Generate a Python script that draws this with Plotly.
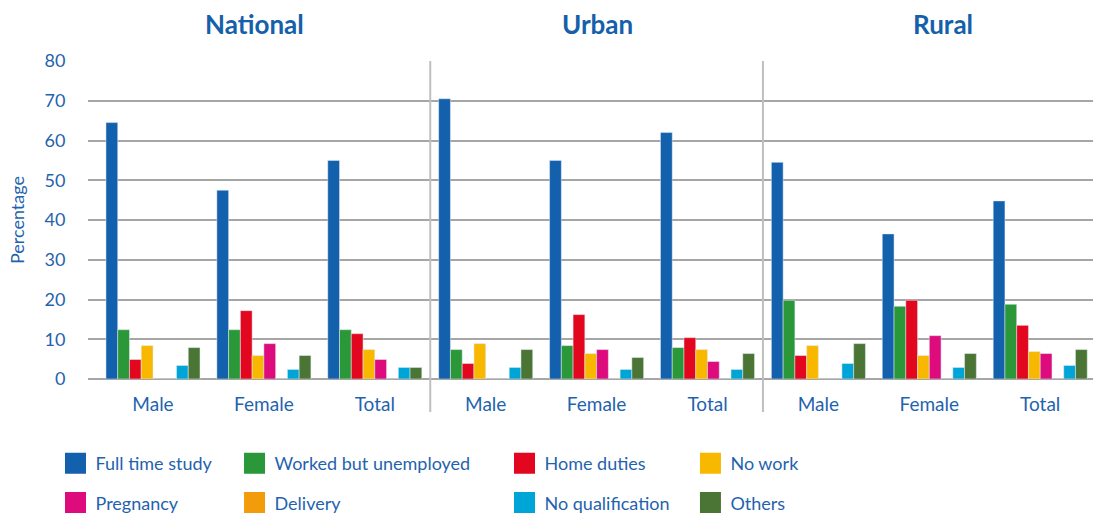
import plotly.graph_objects as go

areas = ["National", "Urban", "Rural"]
sexes = ["Male", "Female", "Total"]
categories = [f"{a} {s}" for a in areas for s in sexes]
tick_labels = [s for a in areas for s in sexes]
y_title = "Percentage"

series_names = ["Full time study", "Worked but unemployed", "Home duties", "No work",
                "Pregnancy", "Delivery", "No qualification", "Others"]

full_time_study = [64.5, 47.5, 55.0, 70.5, 55.0, 62.0, 54.5, 36.5, 44.8]
worked_but_unemployed = [12.4, 12.4, 12.4, 7.4, 8.4, 7.9, 19.8, 18.3, 18.8]
home_duties = [4.9, 17.2, 11.4, 3.9, 16.2, 10.4, 5.9, 19.8, 13.5]
no_work = [8.4, 5.9, 7.4, 8.9, 6.4, 7.4, 8.4, 5.9, 6.9]
pregnancy = [0, 8.9, 4.9, 0, 7.4, 4.4, 0, 10.9, 6.4]
delivery = [0, 0, 0, 0, 0, 0, 0, 0, 0]
no_qualification = [3.4, 2.4, 2.9, 2.9, 2.4, 2.4, 3.9, 2.9, 3.4]
others = [7.9, 5.9, 2.9, 7.4, 5.4, 6.4, 8.9, 6.4, 7.4]

series_values = [full_time_study, worked_but_unemployed, home_duties, no_work,
                 pregnancy, delivery, no_qualification, others]
colors = ["#1360AC", "#2A9739", "#E2071F", "#F9B800",
          "#DE0B7D", "#F39C0B", "#00A5D8", "#4A7535"]

TEXT_BLUE = "#1F63AE"
FONT = "Lato"

fig = go.Figure()
for name, vals, col in zip(series_names, series_values, colors):
    fig.add_trace(go.Bar(x=categories, y=vals, name=name, marker_color=col,
                         legendgroup=name, showlegend=False))

# legend: 4 columns x 2 rows
legend_cols = [[0, 4], [1, 5], [2, 6], [3, 7]]
legend_ids = ["legend", "legend2", "legend3", "legend4"]
legend_x = [0.0506, 0.2138, 0.4599, 0.6294]
for col_idx, idxs in enumerate(legend_cols):
    for i in idxs:
        fig.add_trace(go.Scatter(x=[None], y=[None], mode="markers", name=series_names[i],
                                 legendgroup=series_names[i], legend=legend_ids[col_idx],
                                 marker=dict(symbol="square", size=16, color=colors[i],
                                             line=dict(color=colors[i], width=5)),
                                 showlegend=True))

legend_common = dict(orientation="v", xanchor="left", yanchor="top",
                     xref="container", yref="container", y=0.1409,
                     font=dict(family=FONT, size=18, color=TEXT_BLUE),
                     bgcolor="rgba(0,0,0,0)", tracegroupgap=13, itemclick=False)
layout_legends = {}
for lid, lx in zip(legend_ids, legend_x):
    layout_legends[lid] = dict(legend_common, x=lx)

# section separators between area groups
shapes = []
for k in range(1, len(areas)):
    xpos = k * len(sexes) - 0.5
    shapes.append(dict(type="line", xref="x", yref="paper", x0=xpos, x1=xpos,
                       y0=-0.104, y1=1.0, line=dict(color="#BFBFBF", width=2)))

# area titles
annotations = []
title_shift = [-9, 1, 14]
for a, sh in zip(areas, title_shift):
    annotations.append(dict(x=f"{a} Female", xref="x", y=1.116, yref="paper",
                            text=f"<b>{a}</b>", showarrow=False, xshift=sh,
                            font=dict(family=FONT, size=26, color="#1460AA"),
                            xanchor="center", yanchor="middle"))
# y-axis title (rotated)
annotations.append(dict(x=17, xref="x domain", y=0.5, yref="y domain", text=y_title,
                        showarrow=False, textangle=-90, xanchor="center", yanchor="middle",
                        font=dict(family=FONT, size=18, color=TEXT_BLUE)))
annotations[-1]["xref"] = "paper"
annotations[-1]["x"] = -71 / 1005
annotations[-1]["yref"] = "paper"

fig.update_layout(
    width=1097, height=518,
    margin=dict(l=88, r=4, t=61, b=139, autoexpand=False),
    paper_bgcolor="white", plot_bgcolor="white",
    barmode="group", bargap=0.152, bargroupgap=0,
    shapes=shapes, annotations=annotations,
    font=dict(family=FONT, color=TEXT_BLUE),
    **layout_legends,
)
fig.update_xaxes(
    type="category", categoryorder="array", categoryarray=categories,
    tickmode="array", tickvals=categories, ticktext=tick_labels,
    range=[-0.586, 8.476], showgrid=False, showline=False, ticks="",
    tickfont=dict(family=FONT, size=19, color=TEXT_BLUE), ticklabelstandoff=12,
)
fig.update_yaxes(
    range=[0, 80], dtick=10, showgrid=True, gridcolor="#A6A6A6", gridwidth=1.5,
    zeroline=True, zerolinecolor="#A6A6A6", zerolinewidth=1.5, showline=False,
    ticks="outside", ticklen=18, tickcolor="rgba(0,0,0,0)",
    tickfont=dict(family=FONT, size=18, color=TEXT_BLUE),
)

fig.write_html("out.html", config={"displayModeBar": False},
               post_script="document.body.style.margin='0';")
